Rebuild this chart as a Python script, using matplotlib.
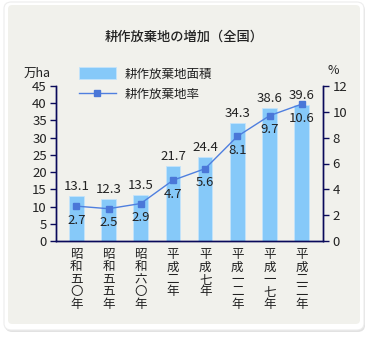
import numpy as np
import matplotlib
matplotlib.use("Agg")
import matplotlib.pyplot as plt
from matplotlib.patches import FancyBboxPatch

plt.rcParams['font.family'] = ['Noto Sans CJK JP', 'DejaVu Sans']

# 耕作放棄地の推移
years = ['昭和五〇年', '昭和五五年', '昭和六〇年', '平成二年',
         '平成七年', '平成一二年', '平成一七年', '平成二二年']
area = [13.1, 12.3, 13.5, 21.7, 24.4, 34.3, 38.6, 39.6]   # 万ha
rate = [2.7, 2.5, 2.9, 4.7, 5.6, 8.1, 9.7, 10.6]          # %

bar_color = '#86C9F9'
line_color = '#4F7FDF'
axis_color = '#0A0A5A'
text_color = '#222222'
fs = 9
num_fs = 9.5

fig = plt.figure(figsize=(3.68, 3.37), dpi=100)
fig.patch.set_facecolor('white')

# card background
W, H = 368, 337
shadow = FancyBboxPatch((5 / W, 5 / H), 360 / W, 328 / H,
                        boxstyle="round,pad=0,rounding_size=0.02",
                        transform=fig.transFigure, facecolor='#E2E2E2',
                        edgecolor='none', zorder=-3)
outer = FancyBboxPatch((4 / W, 7 / H), 360 / W, 328 / H,
                       boxstyle="round,pad=0,rounding_size=0.02",
                       transform=fig.transFigure, facecolor='white',
                       edgecolor='#EDEDED', linewidth=0.8, zorder=-2)
inner = FancyBboxPatch((8 / W, 13 / H), 352 / W, 319 / H,
                       boxstyle="round,pad=0,rounding_size=0.012",
                       transform=fig.transFigure, facecolor='#F1F1EC',
                       edgecolor='none', zorder=-1)
for p in (shadow, outer, inner):
    fig.patches.append(p)

ax = fig.add_axes([56.5 / W, 96 / H, 266.5 / W, 155 / H])
ax.set_facecolor('none')
ax2 = ax.twinx()

x = np.arange(len(years))
bars = ax.bar(x, area, width=0.45, color=bar_color, edgecolor='#C4E4FB',
              linewidth=0.6, zorder=2, label='耕作放棄地面積')
for xi, v in zip(x, area):
    ax.annotate(f'{v}', (xi, v), xytext=(0, 2), textcoords='offset points',
                ha='center', va='bottom', fontsize=num_fs, color=text_color)

line, = ax2.plot(x, rate, color=line_color, lw=1.0, marker='s', ms=4.5,
                 markerfacecolor='#4A77D8', markeredgecolor='#4A77D8',
                 zorder=3, label='耕作放棄地率')
for xi, v in zip(x, rate):
    ax2.annotate(f'{v}', (xi, v), xytext=(0, -5.5), textcoords='offset points',
                 ha='center', va='top', fontsize=num_fs, color=text_color)

ax.set_xlim(-0.615, 7.66)
ax.set_ylim(0, 45)
ax2.set_ylim(0, 12)
ax.set_yticks(range(0, 46, 5))
ax2.set_yticks(range(0, 13, 2))

ax.set_xticks(x)
ax.set_xticklabels(['\n'.join(s) for s in years], va='top',
                   linespacing=0.95, fontsize=fs, color=text_color)
ax.tick_params(axis='x', length=0, pad=5)
ax.tick_params(axis='y', direction='out', length=4, width=1,
               color=axis_color, labelsize=num_fs, labelcolor=text_color, pad=3)
ax2.tick_params(axis='y', direction='out', length=4, width=1,
                color=axis_color, labelsize=num_fs, labelcolor=text_color, pad=3)

for a in (ax, ax2):
    a.spines['top'].set_visible(False)
    for s in ('left', 'right', 'bottom'):
        a.spines[s].set_color(axis_color)
        a.spines[s].set_linewidth(1.0)

fig.text(184 / W, 1 - 37 / H, '耕作放棄地の増加（全国）', ha='center',
         va='center', fontsize=9.5, fontweight='medium', color=text_color)
fig.text(37 / W, 1 - 73 / H, '万ha', ha='center', va='center',
         fontsize=fs, color=text_color)
fig.text(333 / W, 1 - 71 / H, '%', ha='center', va='center',
         fontsize=fs, color=text_color)

fig.legend([bars, line], ['耕作放棄地面積', '耕作放棄地率'],
           loc='upper left', bbox_to_anchor=(79 / W, 1 - 67 / H),
           frameon=False, fontsize=fs, handlelength=2.95, handleheight=1.15,
           handletextpad=0.7, labelspacing=0.6, borderpad=0, borderaxespad=0,
           labelcolor=text_color)

fig.savefig('out.png', dpi=100)
